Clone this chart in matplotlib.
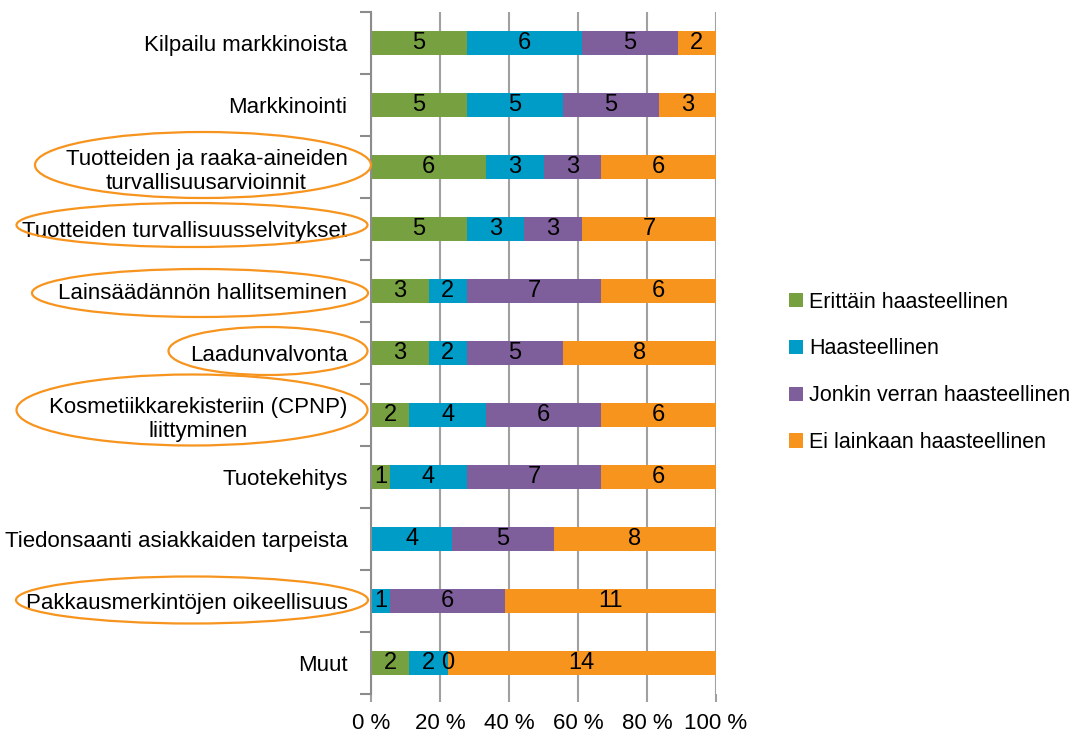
import numpy as np
import matplotlib
matplotlib.use("Agg")
import matplotlib.pyplot as plt
from matplotlib.patches import Ellipse, Patch

plt.rcParams['font.family'] = ['Liberation Sans', 'DejaVu Sans']

categories = [
    "Kilpailu markkinoista",
    "Markkinointi",
    "Tuotteiden ja raaka-aineiden\nturvallisuusarvioinnit",
    "Tuotteiden turvallisuusselvitykset",
    "Lainsäädännön hallitseminen",
    "Laadunvalvonta",
    "Kosmetiikkarekisteriin (CPNP)\nliittyminen",
    "Tuotekehitys",
    "Tiedonsaanti asiakkaiden tarpeista",
    "Pakkausmerkintöjen oikeellisuus",
    "Muut",
]
series_names = ["Erittäin haasteellinen", "Haasteellinen",
                "Jonkin verran haasteellinen", "Ei lainkaan haasteellinen"]
erittain = [5, 5, 6, 5, 3, 3, 2, 1, np.nan, np.nan, 2]
haasteellinen = [6, 5, 3, 3, 2, 2, 4, 4, 4, 1, 2]
jonkin = [5, 5, 3, 3, 7, 5, 6, 7, 5, 6, 0]
ei_lainkaan = [2, 3, 6, 7, 6, 8, 6, 6, 8, 11, 14]
xtick_labels = ["0 %", "20 %", "40 %", "60 %", "80 %", "100 %"]
colors = ["#77A040", "#009CC8", "#7F5F9B", "#F7941E"]

W, H, DPI = 1077, 738, 100
fig = plt.figure(figsize=(W / DPI, H / DPI), dpi=DPI)
ax = fig.add_axes([371 / W, 1 - 694 / H, (716 - 371) / W, (694 - 12) / H])

data = np.array([erittain, haasteellinen, jonkin, ei_lainkaan], dtype=float)
counts = np.nan_to_num(data)
totals = counts.sum(axis=0)
pct = counts / totals * 100
y = np.arange(len(categories))
left = np.zeros(len(categories))
for i in range(4):
    bars = ax.barh(y, pct[i], left=left, height=0.39, color=colors[i],
                   label=series_names[i], zorder=3, edgecolor='none')
    labels = ["" if np.isnan(v) else f"{int(v)}" for v in data[i]]
    ax.bar_label(bars, labels=labels, label_type='center', fontsize=17,
                 color='black', zorder=4)
    left += pct[i]

ax.set_ylim(len(categories) - 0.5, -0.5)
ax.set_xlim(0, 100)
ax.set_xticks(np.arange(0, 101, 20))
ax.set_xticklabels(xtick_labels, fontsize=16)
ax.set_yticks(y)
ax.set_yticklabels(categories, fontsize=16, multialignment='center')
ax.set_yticks(np.arange(-0.5, len(categories), 1), minor=True)
ax.tick_params(axis='y', which='major', length=0, pad=17)
ax.tick_params(axis='y', which='minor', length=8, width=1.5, color='#8C8C8C',
               direction='out')
ax.tick_params(axis='x', length=6, width=1.5, color='#A0A0A0', pad=8)
ax.grid(axis='x', color='#A0A0A0', linewidth=1.5, zorder=0)
for s in ['top', 'right', 'bottom']:
    ax.spines[s].set_visible(False)
ax.spines['left'].set_color('#8C8C8C')
ax.spines['left'].set_linewidth(1.5)
ax.spines['left'].set_zorder(5)

# orange ellipses (centre x, centre y, width, height in pixels from top-left)
ellipses = [(203, 165, 336, 66), (192, 225, 351, 44), (200, 293, 336, 48),
            (268, 351, 199, 48), (192, 410, 351, 71), (192, 600, 352, 47)]
for cx, cy, w, h in ellipses:
    fig.patches.append(Ellipse((cx / W, 1 - cy / H), w / W, h / H,
                               transform=fig.transFigure, fill=False,
                               edgecolor='#F7941E', linewidth=1.6))

handles = [Patch(facecolor=c, edgecolor='none') for c in colors]
fig.legend(handles, series_names, loc='upper left',
           bbox_to_anchor=(780 / W, 1 - 283 / H), frameon=False, fontsize=15.5,
           handlelength=0.65, handleheight=0.65, handletextpad=0.3,
           labelspacing=1.2, borderaxespad=0)

fig.savefig("out.png", dpi=DPI)
